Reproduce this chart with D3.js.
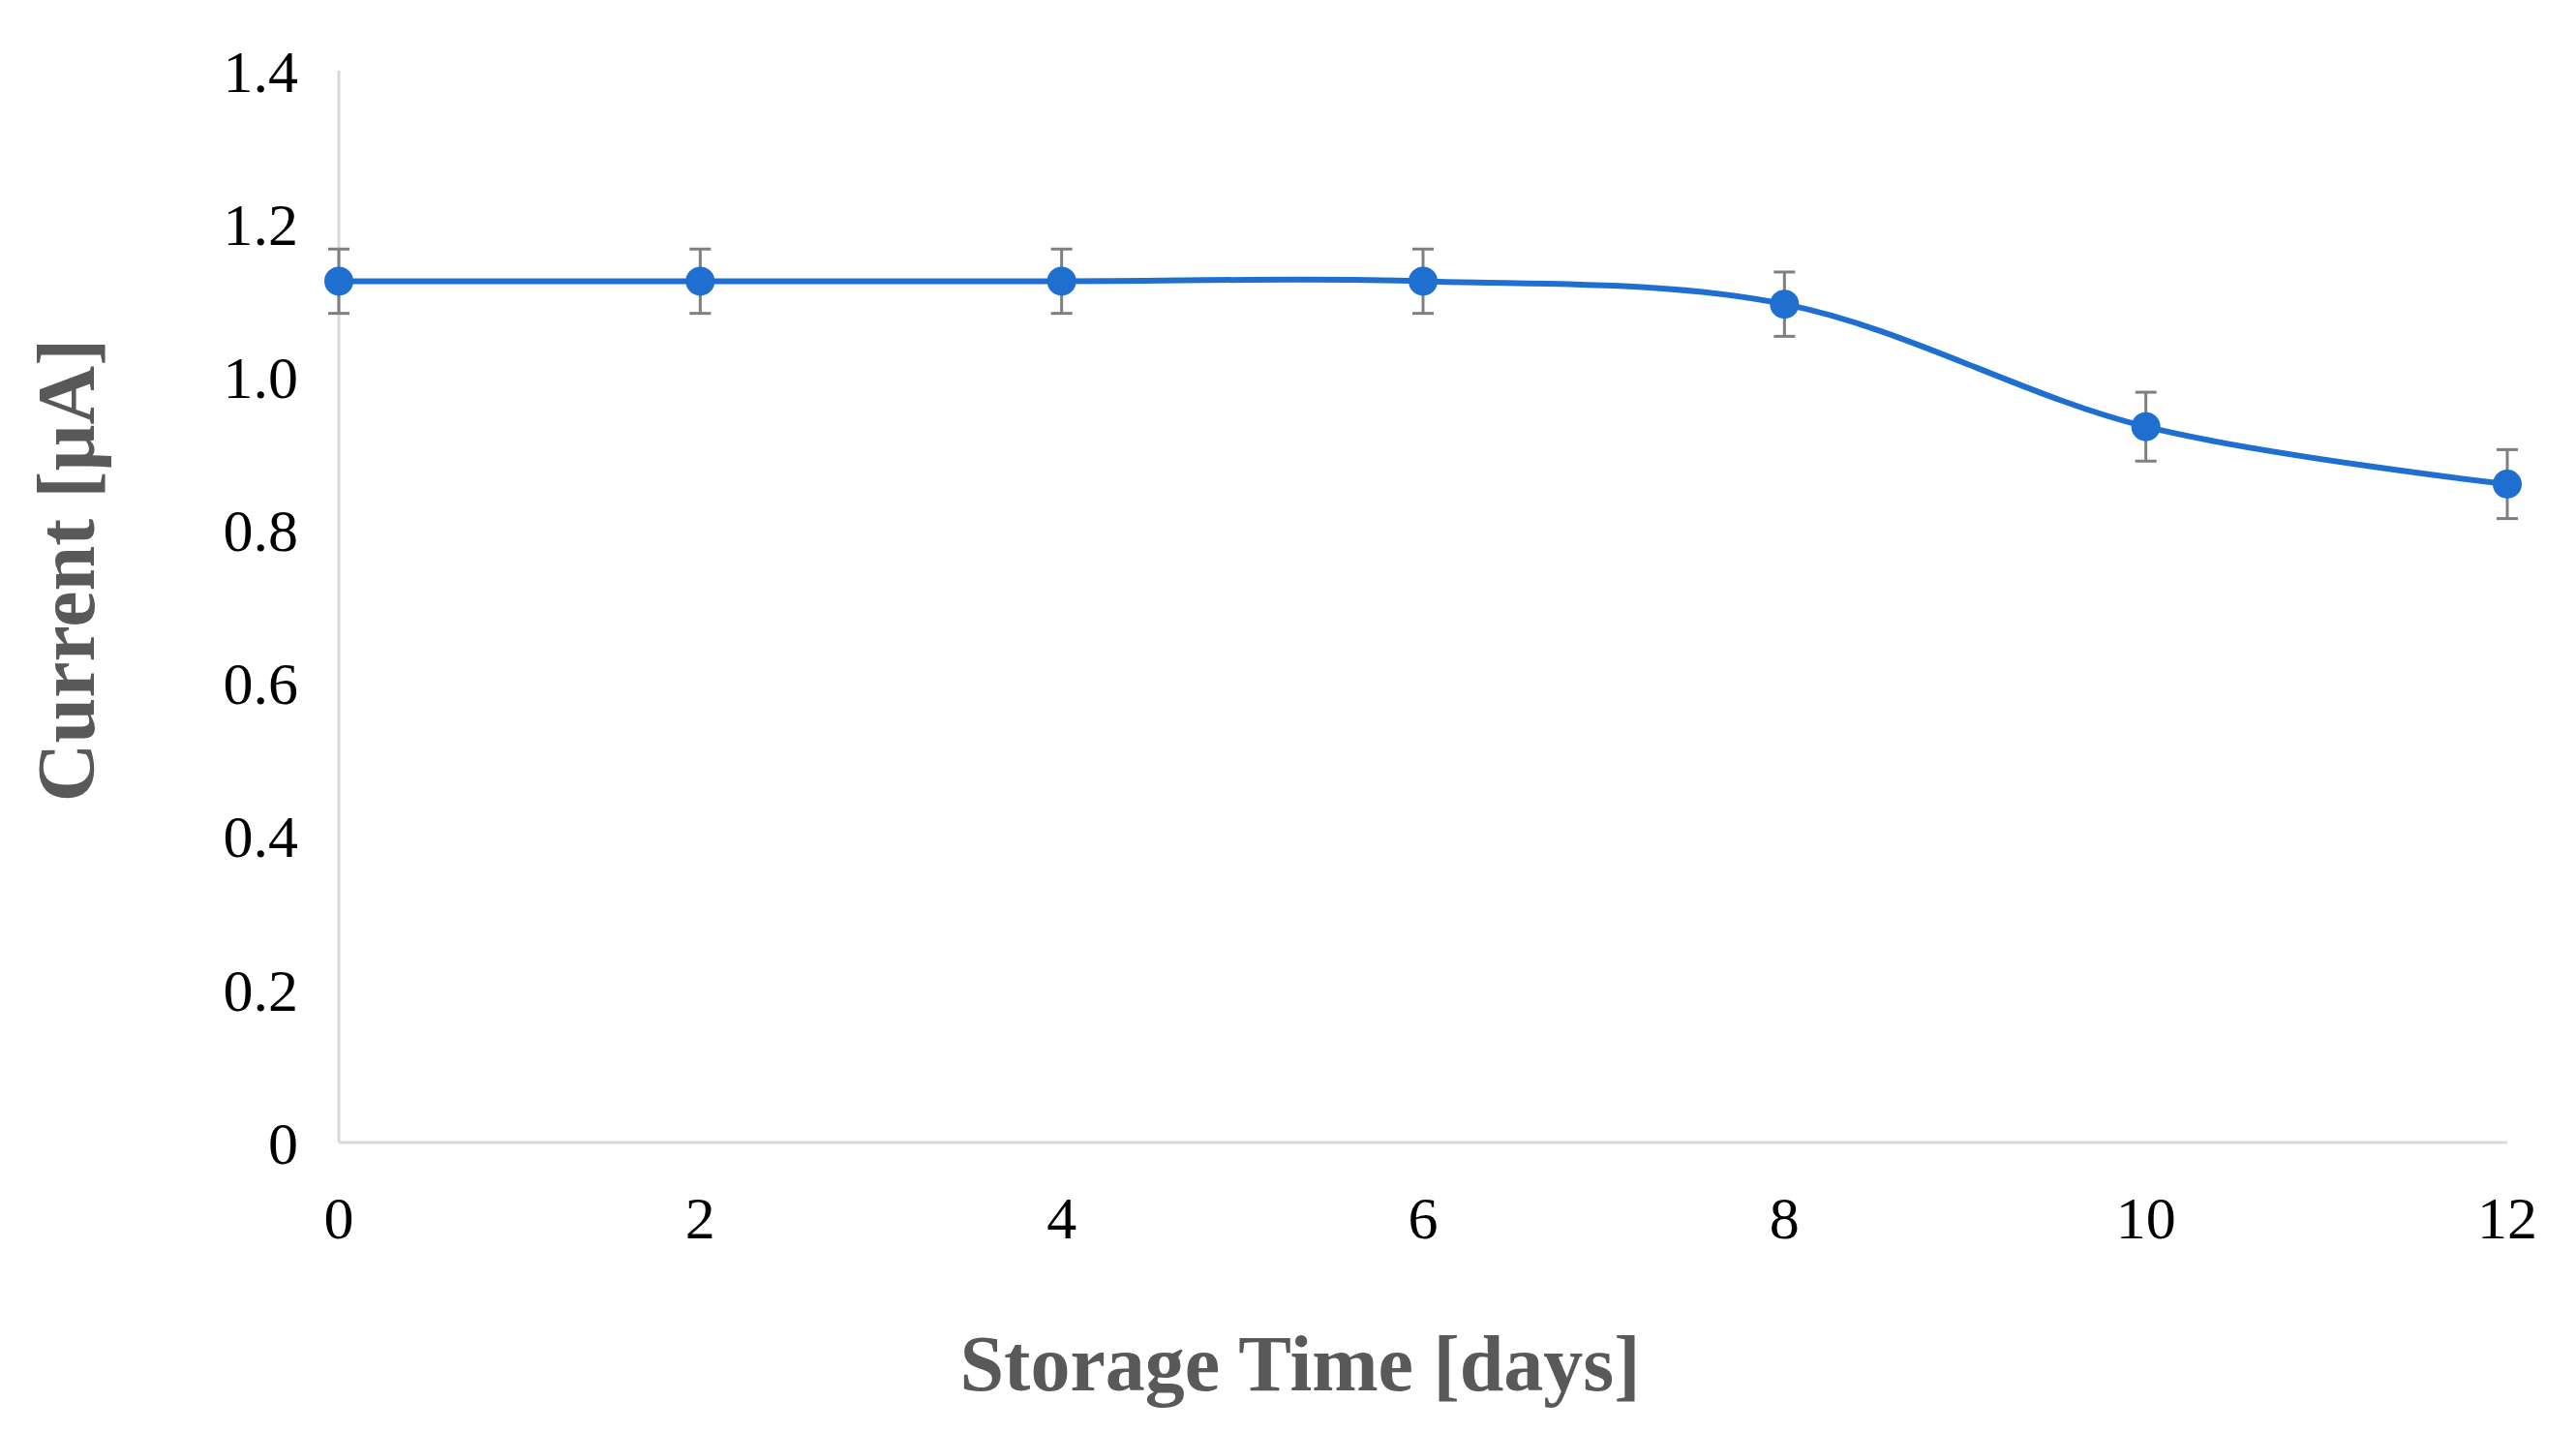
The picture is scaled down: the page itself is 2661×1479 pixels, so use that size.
<!DOCTYPE html>
<html><head><meta charset="utf-8">
<script src="https://cdn.jsdelivr.net/npm/d3@7"></script>
<style>body{margin:0;background:#fff}</style></head>
<body><svg id="c" width="2661" height="1479"></svg>
<script>
const days = [0, 2, 4, 6, 8, 10, 12];
const current = [1.125, 1.125, 1.125, 1.125, 1.095, 0.935, 0.86];
const errors = [0.042, 0.042, 0.042, 0.042, 0.042, 0.045, 0.045];
const yTicks = [0, 0.2, 0.4, 0.6, 0.8, 1.0, 1.2, 1.4];
const xTicks = [0, 2, 4, 6, 8, 10, 12];

const svg = d3.select("#c");
const x = d3.scaleLinear().domain([0, 12]).range([350, 2590]);
const y = d3.scaleLinear().domain([0, 1.4]).range([1180, 73]);
const serif = "'Liberation Serif','Times New Roman',serif";

svg.append("line").attr("x1", x(0)).attr("x2", x(0)).attr("y1", y(1.4)).attr("y2", y(0))
  .attr("stroke", "#d9d9d9").attr("stroke-width", 3);
svg.append("line").attr("x1", x(0)).attr("x2", x(12)).attr("y1", y(0)).attr("y2", y(0))
  .attr("stroke", "#d9d9d9").attr("stroke-width", 3);

svg.selectAll(".yt").data(yTicks).enter().append("text")
  .attr("x", 308).attr("y", d => y(d)).attr("dy", "0.35em").attr("text-anchor", "end")
  .attr("font-family", serif).attr("font-size", 62).attr("fill", "#000")
  .text(d => d === 0 ? "0" : d.toFixed(1));
svg.selectAll(".xt").data(xTicks).enter().append("text")
  .attr("x", d => x(d)).attr("y", 1257).attr("dy", "0.35em").attr("text-anchor", "middle")
  .attr("font-family", serif).attr("font-size", 62).attr("fill", "#000")
  .text(d => d);

svg.append("text").attr("x", 1343).attr("y", 1407).attr("dy", "0.35em").attr("text-anchor", "middle")
  .attr("font-family", serif).attr("font-weight", "bold").attr("font-size", 82).attr("fill", "#595959")
  .text("Storage Time [days]");
svg.append("text").attr("transform", "translate(68,589) rotate(-90)").attr("dy", "0.35em")
  .attr("text-anchor", "middle")
  .attr("font-family", serif).attr("font-weight", "bold").attr("font-size", 84).attr("fill", "#595959")
  .text("Current [µA]");

const pts = days.map((d, i) => ({d, v: current[i], e: errors[i]}));
const eb = svg.append("g").attr("stroke", "#7f7f7f").attr("stroke-width", 3);
pts.forEach(p => {
  eb.append("line").attr("x1", x(p.d)).attr("x2", x(p.d)).attr("y1", y(p.v + p.e)).attr("y2", y(p.v - p.e));
  eb.append("line").attr("x1", x(p.d) - 11).attr("x2", x(p.d) + 11).attr("y1", y(p.v + p.e)).attr("y2", y(p.v + p.e));
  eb.append("line").attr("x1", x(p.d) - 11).attr("x2", x(p.d) + 11).attr("y1", y(p.v - p.e)).attr("y2", y(p.v - p.e));
});

svg.append("path").datum(pts)
  .attr("d", d3.line().x(p => x(p.d)).y(p => y(p.v)).curve(d3.curveCatmullRom.alpha(0.5)))
  .attr("fill", "none").attr("stroke", "#1f6fd1").attr("stroke-width", 6);
svg.selectAll(".pt").data(pts).enter().append("circle")
  .attr("cx", p => x(p.d)).attr("cy", p => y(p.v)).attr("r", 15).attr("fill", "#1f6fd1");
</script></body></html>
